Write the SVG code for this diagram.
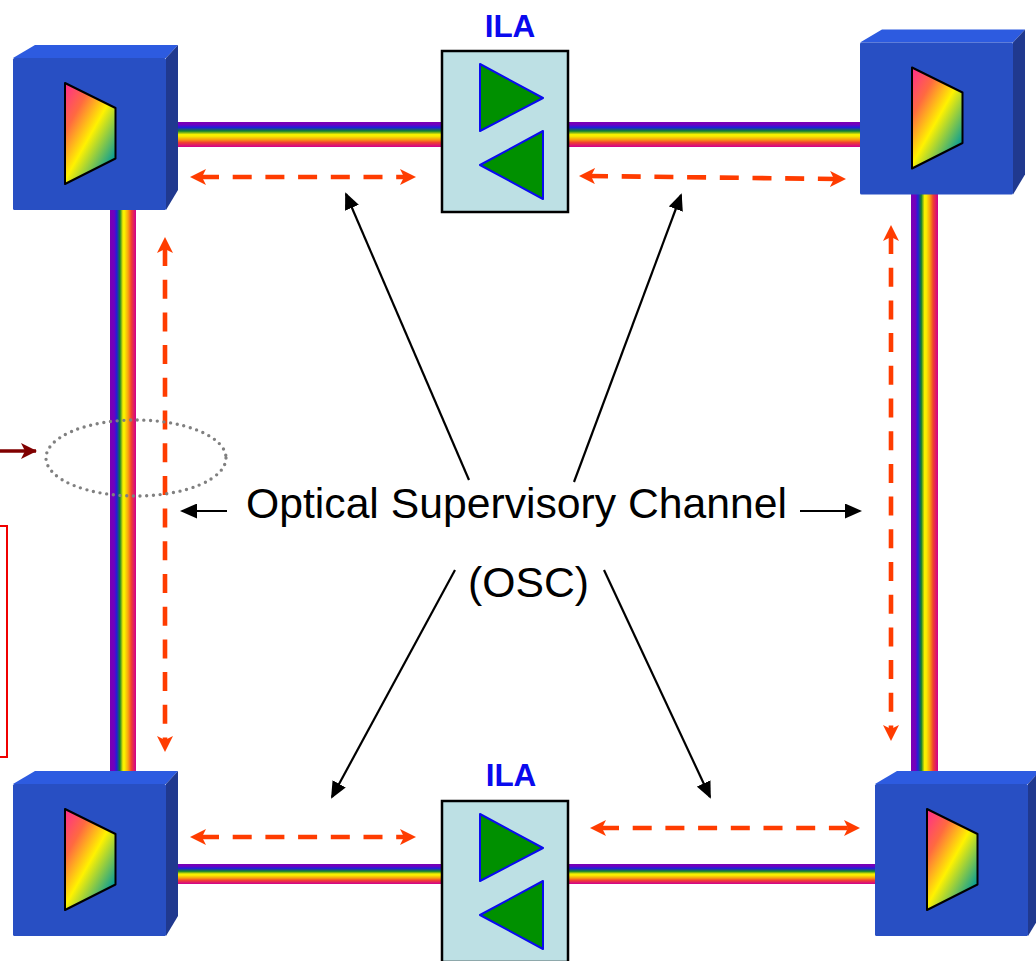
<svg xmlns="http://www.w3.org/2000/svg" width="1036" height="961" viewBox="0 0 1036 961">
<style>
text{font-family:"Liberation Sans",Arial,sans-serif}
.ila{font-size:31.5px;font-weight:bold;fill:#0a0aee;text-anchor:middle}
.lbl{font-size:42.7px;fill:#000}
.osc{fill:none;stroke:#ff3c00;stroke-width:4.6;stroke-dasharray:19 13.7;marker-start:url(#oa);marker-end:url(#oa)}
.blk{fill:none;stroke:#000;stroke-width:2.2;marker-end:url(#ka)}
.amp{fill:#bde0e4;stroke:#000;stroke-width:2.5}
.tri{fill:#009000;stroke:#0a0af0;stroke-width:2;stroke-linejoin:round}
</style>
<defs>
<linearGradient id="fv" x1="0" y1="0" x2="1" y2="0">
<stop offset="0" stop-color="#7a00b0"/><stop offset=".16" stop-color="#7000c0"/><stop offset=".26" stop-color="#2020d8"/><stop offset=".38" stop-color="#108030"/><stop offset=".5" stop-color="#f8f000"/><stop offset=".56" stop-color="#f8f000"/><stop offset=".7" stop-color="#f8a010"/><stop offset=".82" stop-color="#f04030"/><stop offset="1" stop-color="#d00090"/>
</linearGradient>
<linearGradient id="fh" x1="0" y1="0" x2="0" y2="1">
<stop offset="0" stop-color="#7a00b0"/><stop offset=".1" stop-color="#7000c0"/><stop offset=".22" stop-color="#2020d8"/><stop offset=".36" stop-color="#108030"/><stop offset=".5" stop-color="#f8f000"/><stop offset=".56" stop-color="#f8f000"/><stop offset=".7" stop-color="#f8a010"/><stop offset=".82" stop-color="#f04030"/><stop offset="1" stop-color="#d00090"/>
</linearGradient>
<linearGradient id="prism" gradientUnits="userSpaceOnUse" x1="44.2" y1="119.5" x2="114.8" y2="159.2">
<stop offset="0" stop-color="#ff2a90"/><stop offset=".3" stop-color="#ff6a40"/><stop offset=".59" stop-color="#fff200"/><stop offset="1" stop-color="#009a9a"/>
</linearGradient>
<marker id="oa" viewBox="0 0 16 16" refX="6" refY="8" markerUnits="userSpaceOnUse" markerWidth="16" markerHeight="16" orient="auto-start-reverse"><path d="M0 0L16 8L0 16L4 8Z" fill="#ff3c00"/></marker>
<marker id="ka" viewBox="0 0 17 15" refX="15" refY="7.5" markerUnits="userSpaceOnUse" markerWidth="17" markerHeight="15" orient="auto"><path d="M0 0L17 7.5L0 15Z" fill="#000"/></marker>
<marker id="da" viewBox="0 0 16 16" refX="15" refY="8" markerUnits="userSpaceOnUse" markerWidth="16" markerHeight="16" orient="auto"><path d="M0 0L16 8L0 16L4 8Z" fill="#800000"/></marker>
<g id="box">
<path d="M13 58L35 45H178L166 58Z" fill="#2d5be0"/>
<path d="M166 58L178 45V190L166 210Z" fill="#20398f"/>
<rect x="13" y="58" width="153" height="152" rx="1.5" fill="#284fc3"/>
<path d="M65 83L115.5 108V158.500L65 184Z" fill="url(#prism)" stroke="#000" stroke-width="2" stroke-linejoin="round"/>
</g>
<g id="amp">
<rect class="amp" x="442" y="51" width="126" height="161"/>
<path class="tri" d="M480 64L543 98L480 131Z"/>
<path class="tri" d="M543 131L480 165L543 199Z"/>
</g>
</defs>
<g id="fibers">
<rect x="178" y="122" width="264" height="25" fill="url(#fh)"/>
<rect x="568" y="122" width="293" height="25" fill="url(#fh)"/>
<rect x="178" y="864" width="264" height="20" fill="url(#fh)"/>
<rect x="568" y="864" width="307" height="20" fill="url(#fh)"/>
<rect x="110" y="210" width="26" height="561" fill="url(#fv)"/>
<rect x="911" y="194" width="27" height="577" fill="url(#fv)"/>
</g>
<g id="node-tl"><use href="#box"/></g>
<g id="node-tr"><use href="#box" transform="translate(847,-15.500)"/></g>
<g id="node-bl"><use href="#box" transform="translate(0,726)"/></g>
<g id="node-br"><use href="#box" transform="translate(862,726)"/></g>
<g id="node-ila-top"><use href="#amp"/><text class="ila" x="510" y="37">ILA</text></g>
<g id="node-ila-bottom"><use href="#amp" transform="translate(0,750)"/><text class="ila" x="511" y="786">ILA</text></g>
<g id="connectors">
<path class="osc" d="M200 177H406"/>
<path class="osc" d="M589 176L836 179"/>
<path class="osc" d="M165 247V742"/>
<path class="osc" d="M891 235V731"/>
<path class="osc" d="M200 837H406"/>
<path class="osc" d="M600 828H850"/>
<path class="blk" d="M469 480L346 194"/>
<path class="blk" d="M574 482L681 195"/>
<path class="blk" d="M227 511H182"/>
<path class="blk" d="M800 511H860"/>
<path class="blk" d="M455 570L332 797"/>
<path class="blk" d="M604 570L710 797"/>
<path d="M0 451H36" fill="none" stroke="#800000" stroke-width="3.500" marker-end="url(#da)"/>
</g>
<ellipse id="node-ring" cx="136" cy="458" rx="90" ry="38" fill="none" stroke="#808080" stroke-width="3.400" stroke-linecap="round" stroke-dasharray="0 6.7"/>
<path id="node-redbox" d="M0 526H7V757H0" fill="none" stroke="#f00000" stroke-width="2"/>
<g id="node-label">
<text class="lbl" x="246" y="518">Optical Supervisory Channel</text>
<text class="lbl" x="468" y="597">(OSC)</text>
</g>
</svg>
